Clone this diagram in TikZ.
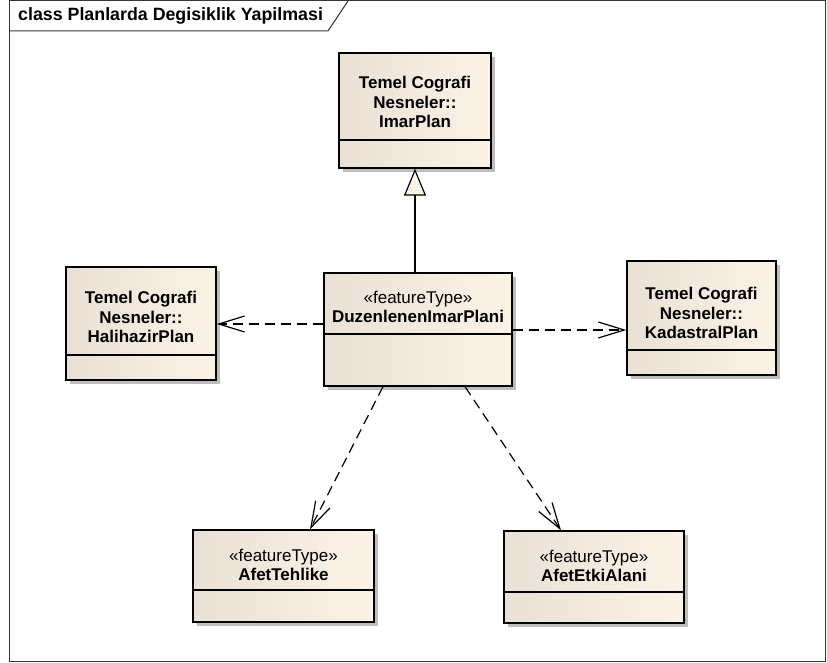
\documentclass[tikz,border=0pt]{standalone}
\usepackage{fontspec}
\setmainfont{Liberation Sans}
\usetikzlibrary{arrows.meta,shadows}

\definecolor{fillL}{RGB}{233,225,214}
\definecolor{fillR}{RGB}{251,243,230}
\definecolor{shadowgray}{RGB}{190,190,190}
\definecolor{framegray}{RGB}{55,55,55}

\begin{document}
\begin{tikzpicture}[x=1bp,y=-1bp,
  classbox/.style={draw=black, line width=1.3bp, inner sep=0pt,
    left color=fillL, right color=fillR,
    drop shadow={shadow xshift=4bp, shadow yshift=-4bp, fill=shadowgray, opacity=1}},
  sepline/.style={draw=black, line width=1.3bp},
  classtext/.style={font=\fontsize{17bp}{19.5bp}\selectfont, align=center, inner sep=0pt},
  framestyle/.style={draw=framegray, line width=1bp},
  genline/.style={draw=black, line width=1.2bp,
    -{Triangle[length=27bp, width=22bp, fill=fillR]}},
  dep/.style={draw=black, line width=1.2bp, dash pattern=on 10bp off 6bp,
    -{Straight Barb[length=26bp, width=16bp]}}]

\useasboundingbox (0,0) rectangle (827,663);
\fill[white] (0,0) rectangle (827,663);

% diagram frame with its name tab
\draw[framestyle] (9,1) rectangle (825.5,661);
\draw[framestyle] (9,31) -- (328,31) -- (348,1);
\node[font=\bfseries\fontsize{17.8bp}{20bp}\selectfont, anchor=west, inner sep=0pt]
  (title) at (18,16) {class Planlarda Degisiklik Yapilmasi};

% classes
\node[classbox, minimum width=152bp, minimum height=115bp] (imar) at (415,110.5) {};
\draw[sepline] (imar.west |- 0,140) -- (imar.east |- 0,140);
\node[classtext] (imartext) at (415,102) {\textbf{Temel Cografi}\\\textbf{Nesneler::}\\\textbf{ImarPlan}};

\node[classbox, minimum width=150bp, minimum height=113bp] (hali) at (141,323.5) {};
\draw[sepline] (hali.west |- 0,355) -- (hali.east |- 0,355);
\node[classtext] (halitext) at (141,317) {\textbf{Temel Cografi}\\\textbf{Nesneler::}\\\textbf{HalihazirPlan}};

\node[classbox, minimum width=188bp, minimum height=113bp] (duz) at (418,329.5) {};
\draw[sepline] (duz.west |- 0,334) -- (duz.east |- 0,334);
\node[classtext] (duztext) at (418,307) {«featureType»\\\textbf{DuzenlenenImarPlani}};

\node[classbox, minimum width=149bp, minimum height=114bp] (kada) at (701.5,318) {};
\draw[sepline] (kada.west |- 0,350) -- (kada.east |- 0,350);
\node[classtext] (kadatext) at (701.5,313) {\textbf{Temel Cografi}\\\textbf{Nesneler::}\\\textbf{KadastralPlan}};

\node[classbox, minimum width=181bp, minimum height=92bp] (tehl) at (283.5,576) {};
\draw[sepline] (tehl.west |- 0,590) -- (tehl.east |- 0,590);
\node[classtext] (tehltext) at (283.5,565) {«featureType»\\\textbf{AfetTehlike}};

\node[classbox, minimum width=180bp, minimum height=92bp] (etki) at (594,577) {};
\draw[sepline] (etki.west |- 0,592) -- (etki.east |- 0,592);
\node[classtext] (etkitext) at (594,566) {«featureType»\\\textbf{AfetEtkiAlani}};

% relations
\draw[genline] (imar.south |- duz.north) -- (imar.south);
\draw[dep] (duz.west |- 0,324) -- (hali.east |- 0,324);
\draw[dep] (duz.east |- 0,330) -- (kada.west |- 0,330);
\draw[dep] (duz.south -| 383,0) -- (tehl.north -| 310,0);
\draw[dep] (duz.south -| 465,0) -- (etki.north -| 561,0);
\end{tikzpicture}
\end{document}
